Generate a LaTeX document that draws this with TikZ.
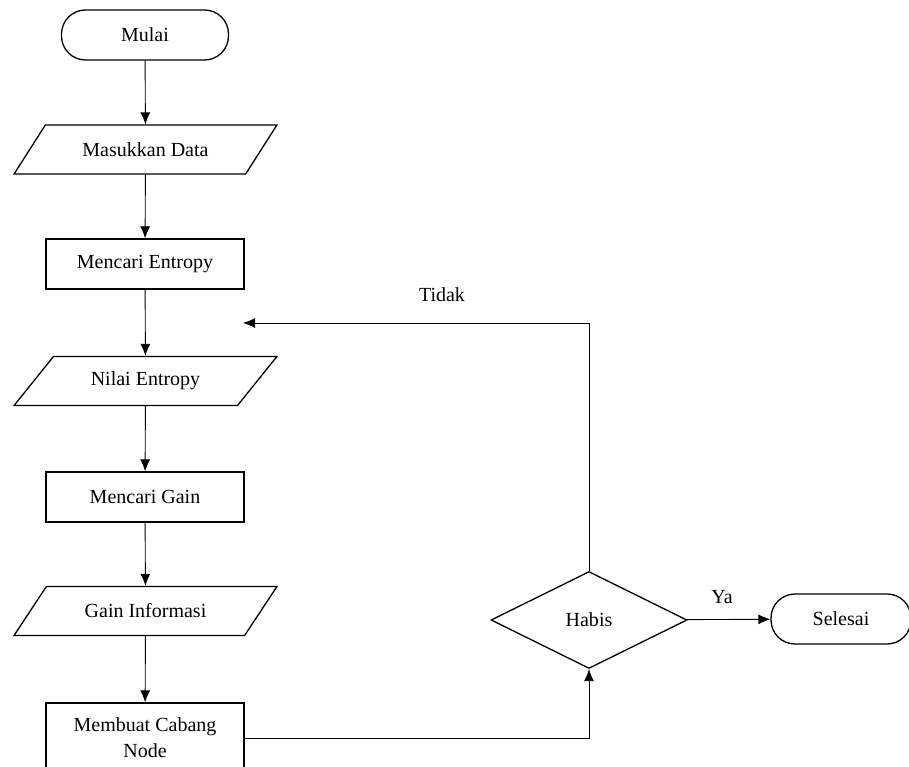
\documentclass[tikz,border=0pt]{standalone}
\usepackage{fontspec}
\setmainfont{Liberation Serif}
\usetikzlibrary{shapes.geometric,arrows.meta}

\begin{document}
\begin{tikzpicture}[x=1pt,y=-1pt,
        every node/.style={font=\fontsize{20}{26}\selectfont},
        terminal/.style={draw,line width=1.3pt,rounded corners=24pt,minimum width=167pt,minimum height=50pt},
        process/.style={draw,line width=1.3pt,minimum width=198pt,minimum height=50pt},
        io/.style={draw,line width=1.3pt,trapezium,trapezium left angle=45,trapezium right angle=135,
            trapezium stretches=true,minimum width=263pt,minimum height=49pt},
        decision/.style={draw,line width=1.3pt,diamond,aspect=2,minimum width=196pt,minimum height=97pt,inner sep=0pt},
        flow/.style={-{Latex[length=12pt,width=10pt]},line width=0.9pt}]
        \useasboundingbox (0,0) rectangle (909,767);

        \node[terminal] (mulai) at (145,35) {Mulai};
        \node[io] (masukkan) at (145.5,149.5) {Masukkan Data};
        \node[process] (entropy) at (145,264) {Mencari Entropy};
        \node[io] (nilai) at (145.5,381) {Nilai Entropy};
        \node[process] (gain) at (145,497) {Mencari Gain};
        \node[io] (informasi) at (145.5,611) {Gain Informasi};
        \node[process,minimum height=70pt,align=center] (cabang) at (145,738) {Membuat Cabang\\Node};

        \node[decision] (habis) at (589,620) {Habis};
        \node[terminal,minimum width=140pt] (selesai) at (841,619) {Selesai};
        \coordinate (balik) at (243,323);

        \node (tidak) at (442,295) {Tidak};
        \node (ya) at (722,597) {Ya};

        \draw[flow] (mulai) -- (masukkan);
        \draw[flow] (masukkan) -- (entropy);
        \draw[flow] (entropy) -- (nilai);
        \draw[flow] (nilai) -- (gain);
        \draw[flow] (gain) -- (informasi);
        \draw[flow] (informasi) -- (cabang);
        \draw[flow] (cabang.east) -| (habis.south);
        \draw[flow] (habis.north) |- (balik);
        \draw[flow] (habis) -- (selesai);
    \end{tikzpicture}
\end{document}
